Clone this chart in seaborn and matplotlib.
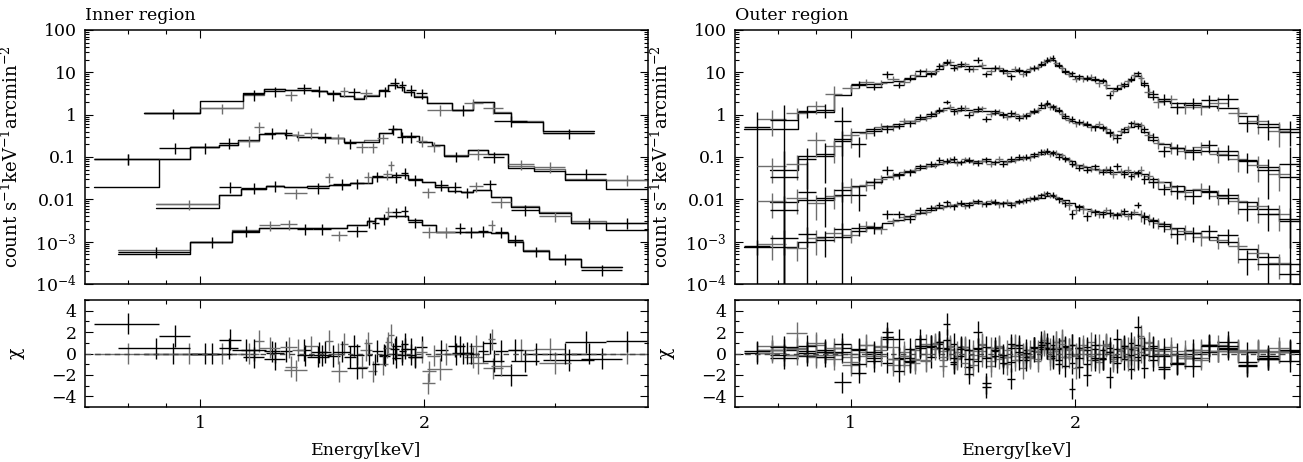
import numpy as np
import matplotlib
matplotlib.use("Agg")
import matplotlib.pyplot as plt
import matplotlib.ticker as mticker
import seaborn as sns

# ---------------- inner region (two detectors: a = black, b = grey) ----------------
inner1_edges = [0.84, 1.00, 1.14, 1.22, 1.30, 1.35, 1.44, 1.48, 1.54, 1.61, 1.66, 1.74,
                1.79, 1.84, 1.88, 1.94, 2.02, 2.18, 2.33, 2.48, 2.62, 2.89, 3.38]
inner1_mod_a = [1.07, 2.14, 3.3, 4.1, 3.9, 3.8, 3.6, 3.2, 2.7, 2.4, 2.76, 3.8, 5.0, 4.6,
                3.4, 2.66, 1.85, 1.29, 2.03, 1.11, 0.68, 0.42]
inner1_mod_b = [1.07, 1.41, 2.98, 4.1, 3.9, 3.8, 3.6, 3.2, 2.7, 2.5, 2.9, 3.8, 5.0, 4.6,
                3.4, 2.7, 1.85, 1.29, 2.03, 1.18, 0.70, 0.37]
inner1_a = [(0.84, 1.00, 1.07), (1.14, 1.22, 3.0), (1.22, 1.30, 3.6), (1.35, 1.41, 4.2),
            (1.41, 1.48, 3.7), (1.48, 1.54, 3.0), (1.58, 1.64, 3.4), (1.74, 1.80, 3.6),
            (1.80, 1.85, 5.7), (1.85, 1.89, 4.9), (1.89, 1.95, 3.9), (1.95, 2.02, 3.2),
            (2.18, 2.33, 1.30), (2.48, 2.75, 0.71), (2.89, 3.38, 0.36)]
inner1_b = [(1.00, 1.14, 1.41), (1.30, 1.35, 2.9), (1.54, 1.58, 3.6), (1.64, 1.70, 3.2),
            (2.02, 2.18, 1.32), (2.26, 2.40, 1.85), (2.40, 2.55, 1.46)]

inner2_edges = [0.72, 0.88, 0.97, 1.06, 1.125, 1.20, 1.26, 1.30, 1.35, 1.44, 1.56, 1.66,
                1.74, 1.81, 1.86, 1.97, 2.05, 2.13, 2.29, 2.44, 2.59, 2.81, 3.09, 3.51, 3.99]
inner2_mod_a = [0.020, 0.090, 0.168, 0.19, 0.25, 0.35, 0.37, 0.34, 0.30, 0.28, 0.23, 0.23,
                0.36, 0.45, 0.31, 0.23, 0.19, 0.106, 0.145, 0.12, 0.056, 0.047, 0.028, 0.018]
inner2_mod_b = [0.090, 0.090, 0.168, 0.19, 0.24, 0.35, 0.37, 0.34, 0.30, 0.28, 0.23, 0.25,
                0.36, 0.45, 0.31, 0.23, 0.19, 0.11, 0.15, 0.12, 0.062, 0.052, 0.030, 0.029]
inner2_a = [(0.72, 0.88, 0.09), (0.88, 0.97, 0.166), (0.97, 1.06, 0.168), (1.06, 1.125, 0.22),
            (1.22, 1.28, 0.37), (1.28, 1.33, 0.36), (1.44, 1.50, 0.29), (1.56, 1.62, 0.21),
            (1.79, 1.84, 0.45), (1.84, 1.89, 0.30), (1.89, 1.95, 0.30), (2.13, 2.29, 0.105),
            (2.40, 2.56, 0.10), (3.09, 3.51, 0.040)]
inner2_b = [(0.72, 0.88, 0.09), (1.125, 1.20, 0.24), (1.18, 1.22, 0.52), (1.33, 1.38, 0.33),
            (1.38, 1.44, 0.37), (1.50, 1.56, 0.28), (1.62, 1.68, 0.17), (1.68, 1.73, 0.17),
            (1.73, 1.79, 0.28), (1.95, 2.02, 0.24), (2.02, 2.10, 0.18), (2.29, 2.44, 0.12),
            (2.59, 2.81, 0.068), (2.81, 3.09, 0.059), (3.51, 3.99, 0.029)]

inner3_edges = [0.873, 1.061, 1.134, 1.225, 1.297, 1.393, 1.489, 1.591, 1.701, 1.81, 1.905,
                1.985, 2.067, 2.154, 2.244, 2.327, 2.462, 2.618, 2.856, 3.149, 3.51, 3.99]
inner3_mod_a = [0.0064, 0.0127, 0.0173, 0.0206, 0.0199, 0.0206, 0.0218, 0.0247, 0.033, 0.0376,
                0.031, 0.026, 0.020, 0.016, 0.0146, 0.0166, 0.0116, 0.0067, 0.0047, 0.0028, 0.0019]
inner3_mod_b = [0.0076, 0.0127, 0.0180, 0.0206, 0.0199, 0.0206, 0.0218, 0.0247, 0.033, 0.0376,
                0.031, 0.026, 0.020, 0.016, 0.0146, 0.0166, 0.0116, 0.0070, 0.0050, 0.0030, 0.0028]
inner3_a = [(1.061, 1.134, 0.020), (1.134, 1.225, 0.019), (1.225, 1.297, 0.021),
            (1.393, 1.489, 0.019), (1.51, 1.59, 0.023), (1.59, 1.66, 0.024), (1.70, 1.76, 0.0355),
            (1.81, 1.86, 0.034), (1.86, 1.905, 0.043), (1.905, 1.985, 0.0286),
            (2.067, 2.154, 0.0218), (2.154, 2.244, 0.020), (2.244, 2.327, 0.0148),
            (2.40, 2.50, 0.0226), (2.618, 2.856, 0.0056), (3.149, 3.51, 0.0028), (3.51, 3.99, 0.0028)]
inner3_b = [(0.873, 1.061, 0.0076), (1.297, 1.393, 0.0138), (1.47, 1.51, 0.033),
            (1.66, 1.70, 0.034), (1.76, 1.81, 0.039), (1.79, 1.82, 0.0635), (1.985, 2.067, 0.0146),
            (2.30, 2.40, 0.0206), (2.462, 2.618, 0.0088), (2.856, 3.149, 0.0040)]

inner4_edges = [0.776, 0.968, 1.105, 1.200, 1.297, 1.379, 1.575, 1.675, 1.719, 1.791, 1.905,
                1.985, 2.078, 2.199, 2.462, 2.592, 2.714, 2.946, 3.248, 3.692]
inner4_mod_a = [5.0e-4, 1.0e-3, 1.66e-3, 2.07e-3, 2.15e-3, 2.1e-3, 2.47e-3, 3.1e-3, 3.6e-3,
                4.0e-3, 3.2e-3, 2.5e-3, 1.72e-3, 1.7e-3, 1.58e-3, 1.0e-3, 6.0e-4, 3.9e-4, 2.5e-4]
inner4_mod_b = [6.3e-4, 1.0e-3, 1.9e-3, 2.1e-3, 2.15e-3, 2.1e-3, 2.47e-3, 3.1e-3, 3.6e-3,
                4.0e-3, 3.2e-3, 2.5e-3, 1.72e-3, 1.7e-3, 1.58e-3, 1.05e-3, 6.2e-4, 4.0e-4, 2.5e-4]
inner4_a = [(0.776, 0.968, 5.8e-4), (0.968, 1.105, 1.0e-3), (1.105, 1.200, 1.82e-3),
            (1.35, 1.42, 2.0e-3), (1.42, 1.50, 2.0e-3), (1.575, 1.675, 1.79e-3),
            (1.675, 1.70, 3.0e-3), (1.70, 1.74, 2.8e-3), (1.74, 1.79, 3.5e-3), (1.81, 1.86, 4.9e-3),
            (1.86, 1.905, 5.3e-3), (1.905, 1.985, 2.9e-3), (2.199, 2.27, 2.1e-3),
            (2.27, 2.36, 1.7e-3), (2.36, 2.44, 1.8e-3), (2.49, 2.592, 1.7e-3),
            (2.592, 2.714, 1.1e-3), (2.714, 2.946, 5.9e-4), (2.946, 3.248, 3.9e-4),
            (3.248, 3.692, 2.2e-4)]
inner4_b = [(1.200, 1.28, 2.47e-3), (1.28, 1.35, 2.56e-3), (1.50, 1.575, 1.43e-3),
            (1.77, 1.81, 5.1e-3), (1.985, 2.078, 1.7e-3), (2.078, 2.199, 1.7e-3),
            (2.44, 2.49, 2.5e-3)]

inner_frac_err = 0.28

# ---------------- outer region: detector a bins and detector b bins ----------------
nan = float("nan")
outer_edges = [0.72, 0.78, 0.85, 0.90, 0.95, 1.00, 1.05, 1.10, 1.14, 1.18,
               1.22, 1.26, 1.30, 1.33, 1.36, 1.39, 1.42, 1.46, 1.50, 1.54,
               1.58, 1.62, 1.66, 1.70, 1.74, 1.78, 1.82, 1.85, 1.88, 1.92,
               1.96, 2.00, 2.05, 2.10, 2.15, 2.20, 2.25, 2.30, 2.35, 2.40,
               2.45, 2.50, 2.58, 2.68, 2.80, 2.95, 3.10, 3.30, 3.50, 3.75, 4.00]
outer_edges_b = [0.75, 0.82, 0.875, 0.925, 0.975, 1.025, 1.075, 1.12, 1.16, 1.20,
                 1.24, 1.28, 1.315, 1.345, 1.375, 1.405, 1.44, 1.48, 1.52, 1.56,
                 1.60, 1.64, 1.68, 1.72, 1.76, 1.80, 1.835, 1.865, 1.90, 1.94,
                 1.98, 2.025, 2.075, 2.125, 2.175, 2.225, 2.275, 2.325, 2.375, 2.425,
                 2.475, 2.54, 2.63, 2.74, 2.87, 3.02, 3.20, 3.40, 3.62, 3.88]

outer1_model = [0.46, 0.46, 1.13, 1.13, 2.9, 5.0, 5.2, 5.8, 6.3, 7.0,
                8.3, 9.5, 12.0, 16.5, 15.0, 14.5, 14.5, 14.0, 13.0, 12.5,
                11.5, 11.0, 10.5, 11.0, 12.5, 15.0, 18.5, 19.5, 14.0, 10.0,
                8.3, 7.3, 6.8, 6.5, 6.2, 4.2, 4.0, 4.8, 6.5, 8.3,
                5.0, 2.6, 2.1, 1.9, 1.7, 1.6, 1.4, 0.94, 0.60, 0.38]
outer1_data = [0.50, 0.75, 1.2, 1.3, 0.72, 5.3, 4.6, 9.0, 5.0, 7.5,
               10.5, 9.0, 14.0, 18.0, 13.0, 16.0, 12.0, 20.0, 9.0, 13.0,
               11.0, 8.0, 11.5, 10.0, 13.0, 16.0, 20.0, 22.0, 15.0, 11.0,
               9.5, 8.0, 7.5, 7.0, 6.5, 2.9, 4.3, 5.2, 7.0, 9.5,
               5.5, 3.0, 2.4, 1.5, 1.9, 2.2, 2.3, 0.65, 0.50, 0.45]
outer1_data_b = [0.8, 1.1, 1.6, 3.0, 4.2, 5.8, 5.5, 7.0, 6.0, 8.8,
                 11.0, 10.5, 15.0, 17.5, 13.5, 15.5, 12.0, 15.0, 10.5, 12.8,
                 9.5, 12.0, 9.0, 12.0, 13.5, 17.5, 21.0, 17.0, 12.5, 9.0,
                 7.0, 7.2, 7.8, 5.5, 5.0, 3.6, 5.0, 6.2, 8.8, 7.5,
                 3.5, 2.0, 2.3, 1.5, 1.5, 1.9, 1.1, 0.7, 0.42]
outer1_err = [1.3, 1.2, 0.3, 0.35, 1.12, 0.18, 0.18, 0.18, 0.16, 0.16,
              0.16, 0.16, 0.16, 0.16, 0.16, 0.16, 0.16, 0.15, 0.16, 0.16,
              0.16, 0.16, 0.16, 0.16, 0.16, 0.16, 0.15, 0.15, 0.16, 0.16,
              0.16, 0.16, 0.16, 0.16, 0.16, 0.2, 0.16, 0.16, 0.16, 0.16,
              0.2, 0.25, 0.3, 0.3, 0.3, 0.35, 0.35, 0.4, 0.5, 0.6]

outer2_model = [nan, 0.049, 0.105, 0.105, 0.24, 0.38, 0.46, 0.55, 0.60, 0.70,
                0.80, 0.95, 1.20, 1.45, 1.35, 1.30, 1.30, 1.25, 1.20, 1.10,
                1.05, 0.95, 0.93, 1.00, 1.15, 1.40, 1.75, 1.60, 1.20, 0.85,
                0.70, 0.62, 0.57, 0.55, 0.52, 0.37, 0.34, 0.40, 0.52, 0.60,
                0.40, 0.25, 0.20, 0.16, 0.15, 0.14, 0.11, 0.08, 0.058, 0.034]
outer2_data = [nan, 0.034, 0.09, 0.12, 0.26, 0.20, 0.42, 0.47, 0.55, 0.62,
               0.90, 1.05, 1.30, 2.00, 1.20, 1.45, 1.00, 1.35, 0.80, 1.20,
               1.00, 1.10, 0.85, 0.95, 1.25, 1.70, 1.90, 1.50, 1.30, 0.95,
               0.80, 0.68, 0.60, 0.50, 0.48, 0.38, 0.28, 0.45, 0.62, 0.55,
               0.45, 0.30, 0.14, 0.16, 0.13, 0.19, 0.14, 0.085, 0.05, 0.07]
outer2_data_b = [0.06, 0.07, 0.25, 0.18, 0.33, 0.36, 0.52, 0.50, 0.72, 0.70,
                 0.85, 1.10, 1.30, 1.55, 1.25, 1.45, 1.15, 1.40, 1.05, 1.15,
                 0.90, 1.05, 0.95, 1.10, 1.30, 1.65, 1.55, 1.45, 1.05, 0.75,
                 0.62, 0.65, 0.50, 0.60, 0.45, 0.33, 0.42, 0.50, 0.65, 0.56,
                 0.33, 0.22, 0.17, 0.14, 0.17, 0.12, 0.09, 0.065, 0.04]
outer2_err = [nan, 3.0, 0.8, 0.8, 0.6, 0.5, 0.25, 0.2, 0.18, 0.16,
              0.16, 0.16, 0.16, 0.1, 0.16, 0.16, 0.16, 0.16, 0.16, 0.16,
              0.16, 0.16, 0.16, 0.16, 0.16, 0.16, 0.15, 0.16, 0.16, 0.16,
              0.16, 0.16, 0.16, 0.16, 0.16, 0.2, 0.25, 0.16, 0.16, 0.16,
              0.2, 0.25, 0.3, 0.3, 0.35, 0.35, 0.4, 0.5, 0.8, 1.5]

outer3_model = [nan, 0.0085, 0.0097, 0.0097, 0.013, 0.021, 0.025, 0.033, 0.040, 0.047,
                0.055, 0.062, 0.070, 0.075, 0.077, 0.078, 0.080, 0.080, 0.079, 0.078,
                0.080, 0.082, 0.088, 0.095, 0.105, 0.118, 0.130, 0.130, 0.115, 0.095,
                0.080, 0.066, 0.058, 0.052, 0.048, 0.045, 0.044, 0.044, 0.045, 0.045,
                0.040, 0.031, 0.025, 0.021, 0.017, 0.015, 0.011, 0.0085, 0.0059, 0.0031]
outer3_data = [nan, 0.0055, 0.015, 0.011, 0.017, 0.013, 0.025, 0.050, 0.037, 0.044,
               0.060, 0.070, 0.085, 0.080, 0.090, 0.075, 0.085, 0.072, 0.088, 0.075,
               0.070, 0.090, 0.100, 0.100, 0.115, 0.130, 0.140, 0.125, 0.100, 0.090,
               0.070, 0.055, 0.050, 0.060, 0.045, 0.050, 0.060, 0.040, 0.035, 0.042,
               0.030, 0.026, 0.018, 0.016, 0.012, 0.016, 0.013, 0.006, 0.0045, 0.0035]
outer3_data_b = [0.009, 0.011, 0.008, 0.012, 0.020, 0.022, 0.030, 0.036, 0.045, 0.050,
                 0.062, 0.066, 0.078, 0.085, 0.072, 0.088, 0.078, 0.082, 0.070, 0.090,
                 0.078, 0.085, 0.095, 0.098, 0.120, 0.135, 0.120, 0.125, 0.110, 0.085,
                 0.065, 0.062, 0.052, 0.048, 0.052, 0.040, 0.047, 0.050, 0.040, 0.048,
                 0.035, 0.025, 0.020, 0.015, 0.018, 0.012, 0.009, 0.007, 0.0045]
outer3_err = [nan, 1.2, 4.0, 0.8, 0.5, 0.6, 0.3, 0.25, 0.2, 0.18,
              0.16, 0.16, 0.16, 0.16, 0.16, 0.16, 0.16, 0.16, 0.16, 0.16,
              0.16, 0.16, 0.16, 0.16, 0.16, 0.16, 0.16, 0.16, 0.16, 0.16,
              0.16, 0.16, 0.16, 0.16, 0.16, 0.2, 0.2, 0.2, 0.2, 0.2,
              0.25, 0.3, 0.3, 0.35, 0.35, 0.35, 0.4, 0.5, 0.6, 0.8]

outer4_model = [7.4e-4, 7.4e-4, 9.8e-4, 1.3e-3, 1.3e-3, 1.8e-3, 2.1e-3, 2.8e-3, 3.3e-3, 4.0e-3,
                4.8e-3, 5.5e-3, 6.2e-3, 6.8e-3, 7.3e-3, 7.6e-3, 8.0e-3, 8.3e-3, 8.3e-3, 8.2e-3,
                8.2e-3, 8.4e-3, 8.8e-3, 9.4e-3, 1.0e-2, 1.1e-2, 1.2e-2, 1.22e-2, 1.1e-2, 9.5e-3,
                8.2e-3, 7.0e-3, 6.0e-3, 5.4e-3, 5.0e-3, 4.7e-3, 4.5e-3, 4.5e-3, 4.5e-3, 4.5e-3,
                4.0e-3, 3.2e-3, 2.6e-3, 2.1e-3, 1.6e-3, 1.3e-3, 1.0e-3, 6.8e-4, 4.3e-4, 2.9e-4]
outer4_data = [8.0e-4, 1.2e-3, 1.5e-3, 1.1e-3, 2.0e-3, 2.1e-3, 2.2e-3, 4.5e-3, 4.5e-3, 3.5e-3,
               5.5e-3, 6.2e-3, 7.5e-3, 8.5e-3, 6.8e-3, 8.2e-3, 7.4e-3, 9.0e-3, 7.8e-3, 8.6e-3,
               8.0e-3, 7.5e-3, 9.0e-3, 9.5e-3, 1.1e-2, 1.25e-2, 1.4e-2, 1.3e-2, 1.0e-2, 8.0e-3,
               4.5e-3, 6.5e-3, 4.0e-3, 5.0e-3, 4.5e-3, 4.8e-3, 4.2e-3, 5.2e-3, 4.4e-3, 7.5e-3,
               3.8e-3, 3.0e-3, 2.4e-3, 1.5e-3, 1.6e-3, 1.8e-3, 1.4e-3, 4.0e-4, 3.0e-4, 1.7e-4]
outer4_data_b = [9.0e-4, 7.0e-4, 1.2e-3, 1.6e-3, 1.4e-3, 2.4e-3, 2.0e-3, 3.0e-3, 3.8e-3, 4.4e-3,
                 5.0e-3, 6.5e-3, 6.5e-3, 7.5e-3, 7.8e-3, 7.0e-3, 8.6e-3, 8.0e-3, 9.0e-3, 7.6e-3,
                 8.8e-3, 8.0e-3, 9.2e-3, 1.05e-2, 1.15e-2, 1.35e-2, 1.25e-2, 1.15e-2, 9.0e-3, 7.5e-3,
                 5.5e-3, 6.0e-3, 5.2e-3, 4.5e-3, 5.6e-3, 4.2e-3, 4.8e-3, 4.0e-3, 5.0e-3, 4.2e-3,
                 3.5e-3, 2.8e-3, 2.0e-3, 1.8e-3, 1.3e-3, 1.1e-3, 8.0e-4, 5.5e-4, 3.2e-4]
outer4_err = [0.4, 0.6, 0.5, 0.6, 0.4, 0.35, 0.3, 0.25, 0.2, 0.2,
              0.18, 0.16, 0.16, 0.16, 0.16, 0.16, 0.16, 0.16, 0.16, 0.16,
              0.16, 0.16, 0.16, 0.16, 0.16, 0.16, 0.15, 0.16, 0.16, 0.16,
              0.25, 0.2, 0.25, 0.2, 0.2, 0.2, 0.2, 0.2, 0.2, 0.16,
              0.3, 0.3, 0.3, 0.4, 0.4, 0.4, 0.4, 0.6, 0.8, 1.0]

BLACK = "#000000"
GREY = "#6e6e6e"
LW = 1.0
FS = 12.5

sns.set_theme(style="ticks", rc={"axes.edgecolor": "black", "text.color": "black",
                                 "xtick.color": "black", "ytick.color": "black",
                                 "axes.labelcolor": "black"})
plt.rcParams["font.family"] = ["DejaVu Serif"]
plt.rcParams["mathtext.fontset"] = "dejavuserif"


def draw_model(ax, edges, vals, color):
    edges = np.asarray(edges, float)
    vals = np.asarray(vals, float)
    i0 = int(np.argmax(np.isfinite(vals)))
    e = edges[i0:]
    v = vals[i0:]
    sns.lineplot(x=e, y=np.append(v, v[-1]), ax=ax, color=color, lw=LW,
                 drawstyle="steps-post", estimator=None, sort=False, legend=False)


def draw_points(ax_top, ax_res, lo, hi, y, frac, edges, model, color):
    lo, hi, y = (np.asarray(a, float) for a in (lo, hi, y))
    frac = np.broadcast_to(np.asarray(frac, float), y.shape)
    ok = np.isfinite(y) & np.isfinite(frac)
    lo, hi, y, frac = lo[ok], hi[ok], y[ok], frac[ok]
    xc = (lo + hi) / 2
    sig = frac * y
    low = np.minimum(sig, y * (1 - 1e-7))
    xerr = [xc - lo, hi - xc]
    ax_top.errorbar(xc, y, xerr=xerr, yerr=[low, sig], fmt="none", ecolor=color,
                    elinewidth=LW, capsize=0)
    model = np.asarray(model, float)
    idx = np.clip(np.searchsorted(edges, xc, side="right") - 1, 0, len(model) - 1)
    m = model[idx]
    m = np.where(np.isfinite(m), m, y)
    chi = (y - m) / sig
    ax_res.errorbar(xc, chi, xerr=xerr, yerr=1.0, fmt="none", ecolor=color,
                    elinewidth=LW, capsize=0)


def frame(ax):
    ax.set_xscale("log")
    ax.set_xlim(0.7, 4.0)
    ax.set_xticks([1, 2], labels=["1", "2"])
    ax.xaxis.set_minor_locator(mticker.FixedLocator([0.8, 0.9, 3]))
    ax.xaxis.set_minor_formatter(mticker.NullFormatter())
    ax.tick_params(which="both", direction="in", top=True, right=True, width=0.8,
                   labelsize=FS, pad=6)
    ax.tick_params(which="major", length=6)
    ax.tick_params(which="minor", length=3)
    for s in ax.spines.values():
        s.set_linewidth(1.1)
        s.set_color("black")


def setup_axes(ax_top, ax_res, title):
    ax_top.set_yscale("log")
    frame(ax_top)
    frame(ax_res)
    ax_top.set_ylim(1e-4, 100)
    ax_top.set_yticks([1e-4, 1e-3, 1e-2, 0.1, 1, 10, 100],
                      labels=["10$^{-4}$", "10$^{-3}$", "0.01", "0.1", "1", "10", "100"])
    ax_top.yaxis.set_minor_locator(mticker.LogLocator(base=10, subs=np.arange(2, 10)))
    ax_top.yaxis.set_minor_formatter(mticker.NullFormatter())
    ax_top.tick_params(labelbottom=False)
    ax_top.set_ylabel("count s$^{-1}$keV$^{-1}$arcmin$^{-2}$", fontsize=13)
    ax_top.yaxis.set_label_coords(-0.112, 0.5)
    ax_top.set_xlabel("")
    ax_top.text(0.0, 1.025, title, transform=ax_top.transAxes, ha="left", va="bottom",
                fontsize=FS)

    ax_res.set_ylim(-5, 5)
    ax_res.set_yticks([-4, -2, 0, 2, 4])
    ax_res.yaxis.set_minor_locator(mticker.MultipleLocator(1))
    ax_res.axhline(0, color="#444444", lw=LW, ls=(0, (4, 3)))
    ax_res.set_ylabel("χ", fontsize=FS + 1)
    ax_res.yaxis.set_label_coords(-0.107, 0.5)
    ax_res.set_xlabel("Energy[keV]", fontsize=FS)
    ax_res.xaxis.set_label_coords(0.5, -0.33)


fig = plt.figure(figsize=(13.03, 4.62), dpi=100)
W, H = 1303, 462
panels = []
for x0, x1 in [(85, 648), (735, 1300)]:
    ax_top = fig.add_axes([x0 / W, 1 - 284 / H, (x1 - x0) / W, 254 / H])
    ax_res = fig.add_axes([x0 / W, 1 - 407 / H, (x1 - x0) / W, 107 / H])
    for ax in (ax_top, ax_res):
        ax.set_xscale("log")
    ax_top.set_yscale("log")
    panels.append((ax_top, ax_res))

# inner region
ax_top, ax_res = panels[0]
inner = [(inner1_edges, inner1_mod_a, inner1_mod_b, inner1_a, inner1_b),
         (inner2_edges, inner2_mod_a, inner2_mod_b, inner2_a, inner2_b),
         (inner3_edges, inner3_mod_a, inner3_mod_b, inner3_a, inner3_b),
         (inner4_edges, inner4_mod_a, inner4_mod_b, inner4_a, inner4_b)]
for edges, mod_a, mod_b, pts_a, pts_b in inner:
    draw_model(ax_top, edges, mod_b, GREY)
    draw_model(ax_top, edges, mod_a, BLACK)
    for pts, mod, col in [(pts_b, mod_b, GREY), (pts_a, mod_a, BLACK)]:
        lo, hi, y = zip(*pts)
        draw_points(ax_top, ax_res, lo, hi, y, inner_frac_err, edges, mod, col)
setup_axes(ax_top, ax_res, "Inner region")

# outer region
ax_top, ax_res = panels[1]
oe = np.asarray(outer_edges)
ob = np.asarray(outer_edges_b)
outer = [(outer1_model, outer1_data, outer1_data_b, outer1_err),
         (outer2_model, outer2_data, outer2_data_b, outer2_err),
         (outer3_model, outer3_data, outer3_data_b, outer3_err),
         (outer4_model, outer4_data, outer4_data_b, outer4_err)]
for model, data_a, data_b, err in outer:
    err = np.asarray(err, float)
    draw_model(ax_top, oe, model, BLACK)
    # grey detector: bins shifted by half a bin, errors of the neighbouring bin (capped)
    err_b = np.minimum(np.where(np.isfinite(err[1:]), err[1:], 0.6), 0.6)
    draw_points(ax_top, ax_res, ob[:-1], ob[1:], data_b, err_b, oe, model, GREY)
    draw_points(ax_top, ax_res, oe[:-1], oe[1:], data_a, err, oe, model, BLACK)
setup_axes(ax_top, ax_res, "Outer region")

fig.savefig("out.png", dpi=100)
